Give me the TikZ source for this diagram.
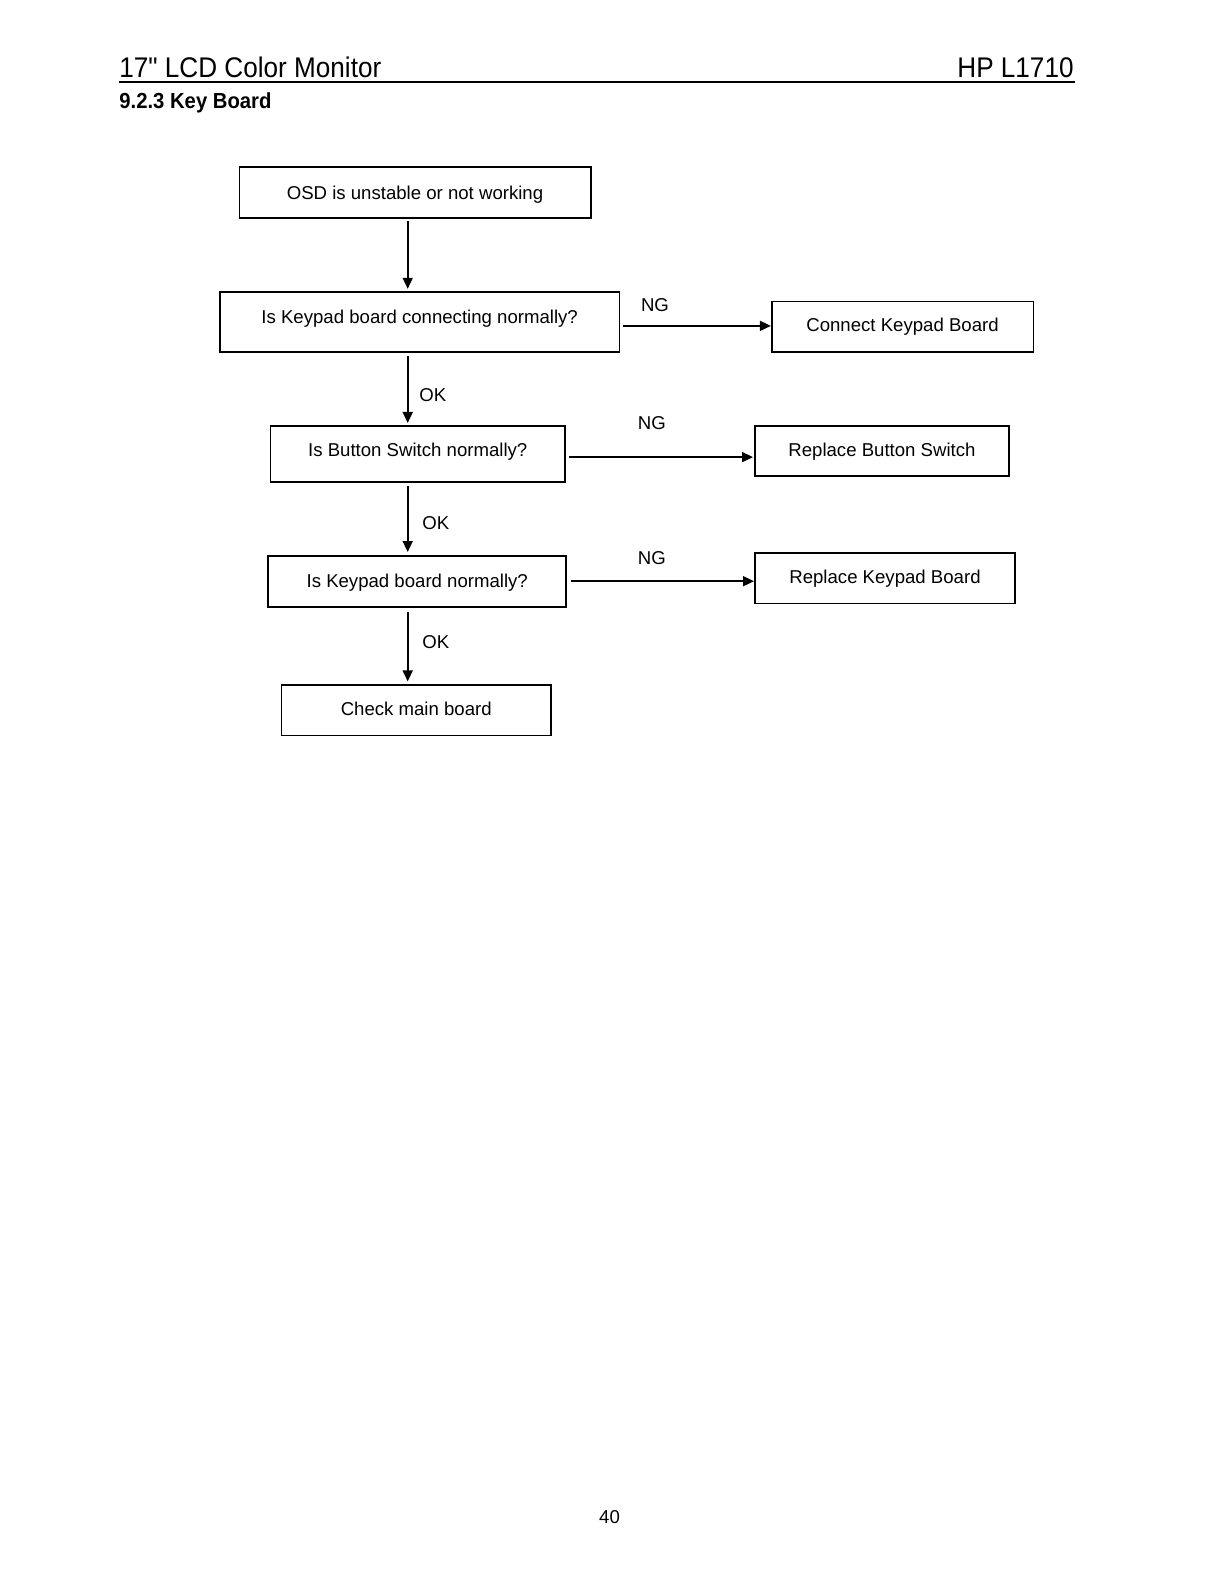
\documentclass[tikz,border=0pt]{standalone}
\usepackage{fontspec}
\setmainfont{Liberation Sans}
\newfontfamily\hdrfont[FakeStretch=0.92]{Liberation Sans}
\newfontfamily\subfont[FakeStretch=0.93]{Liberation Sans}
\usetikzlibrary{arrows.meta}
\begin{document}
\begin{tikzpicture}[x=0.5pt,y=-0.5pt,
  box/.style={draw,line width=0.8pt,inner sep=0pt},
  txt/.style={font=\fontsize{9.3pt}{11pt}\selectfont,text height=6.66pt,text depth=0pt,inner sep=0pt},
  arr/.style={line width=0.85pt,-{Triangle[length=5.5pt,width=5pt]}},
  hdr/.style={font=\hdrfont\fontsize{14.2pt}{16pt}\selectfont,inner sep=0pt}
]
\useasboundingbox[fill=white] (0,0) rectangle (1219,1582);

% header
\node[hdr,anchor=base west] (title) at (119,77.5) {17" LCD Color Monitor};
\node[hdr,anchor=base east] (model) at (1074,77.5) {HP L1710};
\coordinate (rulel) at (119,81.7);
\coordinate (ruler) at (1074.7,81.7);
\draw[line width=1pt] (rulel) -- (ruler);
\node[anchor=base west,inner sep=0pt,font=\subfont\bfseries\fontsize{10.9pt}{13pt}\selectfont] (sec) at (119,109) {9.2.3 Key Board};

% boxes
\node[box,minimum width=175.7pt,minimum height=25.5pt,
  label={[txt]center:OSD is unstable or not working}] (b1) at (415,192.8) {};
\node[box,minimum width=199.65pt,minimum height=30pt,
  label={[txt,yshift=2.65pt]center:Is Keypad board connecting normally?}] (b2) at (419.65,322.3) {};
\node[box,minimum width=130.8pt,minimum height=25.15pt,
  label={[txt,yshift=1pt]center:Connect Keypad Board}] (c1) at (902.5,326.85) {};
\node[box,minimum width=147.35pt,minimum height=28.25pt,
  label={[txt,yshift=2pt]center:Is Button Switch normally?}] (b3) at (417.75,454.05) {};
\node[box,minimum width=127.15pt,minimum height=25.25pt,
  label={[txt,yshift=0.5pt]center:Replace Button Switch}] (c2) at (881.95,451.05) {};
\node[box,line width=1pt,minimum width=148.85pt,minimum height=25.25pt,
  label={[txt]center:Is Keypad board normally?}] (b4) at (417.25,581.25) {};
\node[box,minimum width=130.2pt,minimum height=25.2pt,
  label={[txt,yshift=0.5pt]center:Replace Keypad Board}] (c3) at (885,578.2) {};
\node[box,minimum width=134.75pt,minimum height=25.2pt,
  label={[txt,yshift=1pt]center:Check main board}] (b5) at (416.25,710.4) {};

% connector guides
\coordinate (ax) at (407.7,0);
\coordinate (h1) at (0,325.9);
\coordinate (h2) at (0,457.1);
\coordinate (h3) at (0,581.2);

% vertical arrows
\draw[arr,shorten <=1pt,shorten >=1.35pt] (b1.south -| ax) -- (b2.north -| ax);
\draw[arr,shorten <=1.45pt,shorten >=1pt] (b2.south -| ax) -- (b3.north -| ax);
\draw[arr,shorten <=1.5pt,shorten >=1.5pt] (b3.south -| ax) -- (b4.north -| ax);
\draw[arr,shorten <=2pt,shorten >=1.5pt] (b4.south -| ax) -- (b5.north -| ax);

% horizontal arrows
\draw[arr,shorten <=1.35pt] (b2.east |- h1) -- (c1.west |- h1);
\draw[arr,shorten <=1.5pt,shorten >=0.5pt] (b3.east |- h2) -- (c2.west |- h2);
\draw[arr,shorten <=2pt] (b4.east |- h3) -- (c3.west |- h3);

% labels
\node[txt] (ng1) at (655,304.7) {NG};
\node[txt] (ok1) at (432.9,394.6) {OK};
\node[txt] (ng2) at (651.9,422.8) {NG};
\node[txt] (ok2) at (435.9,522.7) {OK};
\node[txt] (ng3) at (651.9,558) {NG};
\node[txt] (ok3) at (435.9,641.8) {OK};

% page number
\node[txt,anchor=base] (pg) at (609.5,1523.7) {40};
\end{tikzpicture}
\end{document}
